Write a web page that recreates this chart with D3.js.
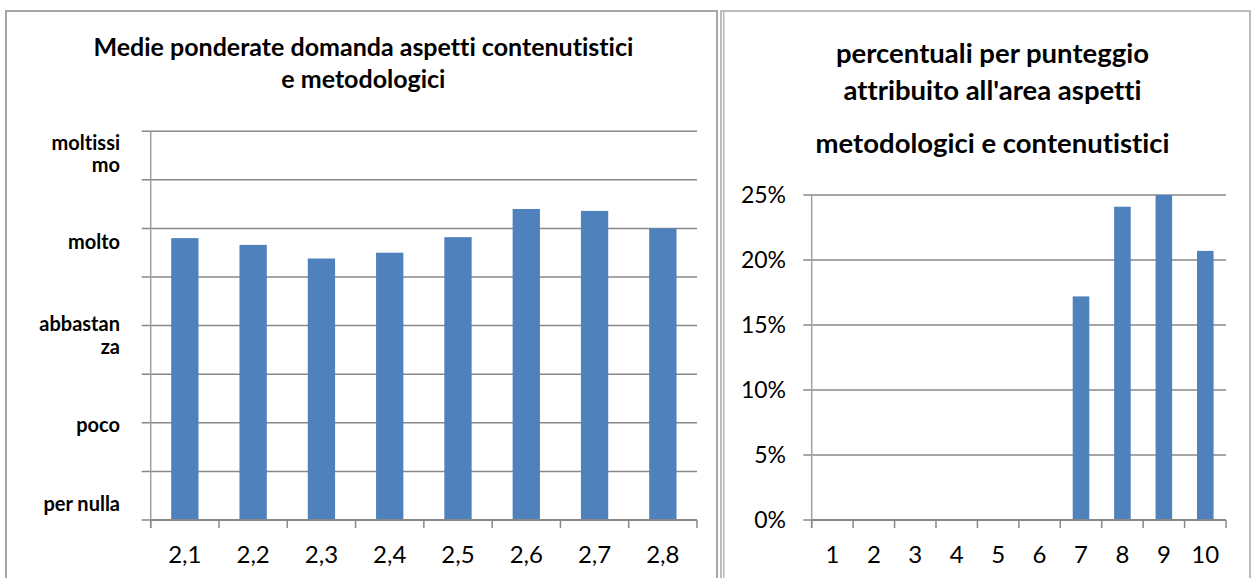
<!DOCTYPE html>
<html>
<head>
<meta charset="utf-8">
<script src="https://cdn.jsdelivr.net/npm/d3@7"></script>
<style>
  body { margin: 0; background: #fff; }
  svg { display: block; font-family: Lato, "Open Sans", sans-serif; font-variant-ligatures: none; }
</style>
</head>
<body>
<div id="chart"></div>
<script>
// left chart: weighted averages per question
const questions = ["2,1", "2,2", "2,3", "2,4", "2,5", "2,6", "2,7", "2,8"];
const averages = [2.90, 2.83, 2.69, 2.75, 2.91, 3.20, 3.18, 3.00];
const levelLabels = [["per nulla"], ["poco"], ["abbastan", "za"], ["molto"], ["moltissi", "mo"]];
const levelTicks = [0.09, 0.91, 1.94, 2.79, 3.81];
const leftTitle = ["Medie ponderate domanda aspetti contenutistici", "e metodologici"];

// right chart: share of answers per score
const scores = ["1", "2", "3", "4", "5", "6", "7", "8", "9", "10"];
const shares = [0, 0, 0, 0, 0, 0, 0.172, 0.241, 0.25, 0.207];
const percentTicks = [0, 0.05, 0.10, 0.15, 0.20, 0.25];
const rightTitle = ["percentuali per punteggio", "attribuito all'area aspetti", "metodologici e contenutistici"];

const barColor = "#4f81bd";
const gridColor = "#888888";
const axisColor = "#a0a0a0";
const frameColor = "#a6a6a6";

const svg = d3.select("#chart").append("svg")
    .attr("width", 1253)
    .attr("height", 578);

// frames
svg.append("rect")
    .attr("x", 6).attr("y", 11)
    .attr("width", 711).attr("height", 600)
    .attr("fill", "none")
    .attr("stroke", frameColor)
    .attr("stroke-width", 2);

svg.append("rect")
    .attr("x", 721).attr("y", 11)
    .attr("width", 529).attr("height", 600)
    .attr("fill", "none")
    .attr("stroke", frameColor)
    .attr("stroke-width", 1.5);

svg.append("line")
    .attr("x1", 723.8).attr("x2", 723.8)
    .attr("y1", 11).attr("y2", 578)
    .attr("stroke", frameColor)
    .attr("stroke-width", 1.2);

function drawBars(g, cats, vals, x, y, bottom) {
    g.selectAll("rect.bar")
        .data(vals)
        .enter()
        .append("rect")
        .attr("class", "bar")
        .attr("x", (d, i) => x(cats[i]))
        .attr("width", x.bandwidth())
        .attr("y", d => y(d))
        .attr("height", d => bottom - y(d))
        .attr("fill", barColor);
}

function drawCategoryAxis(g, cats, x, bottom, fontSize) {
    const step = x.step();
    const edge = (step - x.bandwidth()) / 2;
    const bounds = cats.map(c => x(c) - edge);
    bounds.push(x.range()[1]);

    g.append("line")
        .attr("x1", x.range()[0]).attr("x2", x.range()[1])
        .attr("y1", bottom).attr("y2", bottom)
        .attr("stroke", gridColor)
        .attr("stroke-width", 2);

    g.selectAll("line.xtick")
        .data(bounds)
        .enter()
        .append("line")
        .attr("class", "xtick")
        .attr("x1", d => d).attr("x2", d => d)
        .attr("y1", bottom).attr("y2", bottom + 8)
        .attr("stroke", gridColor)
        .attr("stroke-width", 1.5);

    g.selectAll("text.xlabel")
        .data(cats)
        .enter()
        .append("text")
        .attr("class", "xlabel")
        .attr("x", d => x(d) + x.bandwidth() / 2)
        .attr("y", bottom + 42.7)
        .attr("text-anchor", "middle")
        .attr("fill", "#000")
        .style("font-size", fontSize + "px")
        .text(d => d);
}

// ---------- left chart ----------
const left = svg.append("g");
const lx = d3.scaleBand()
    .domain(questions)
    .range([150.7, 697])
    .paddingInner(0.6)
    .paddingOuter(0.3);
const ly = d3.scaleLinear()
    .domain([0, 4])
    .range([520, 131.2]);
const lTicks = d3.range(0, 4.01, 0.5);

left.selectAll("line.grid")
    .data(lTicks.slice(1))
    .enter()
    .append("line")
    .attr("class", "grid")
    .attr("x1", 141.7).attr("x2", 697)
    .attr("y1", d => ly(d)).attr("y2", d => ly(d))
    .attr("stroke", gridColor)
    .attr("stroke-width", 1.5);

left.append("line")
    .attr("x1", 141.7).attr("x2", 150.7)
    .attr("y1", ly(0)).attr("y2", ly(0))
    .attr("stroke", gridColor)
    .attr("stroke-width", 1.5);

left.append("line")
    .attr("x1", 150.7).attr("x2", 150.7)
    .attr("y1", ly(4)).attr("y2", ly(0) + 8)
    .attr("stroke", axisColor)
    .attr("stroke-width", 1.5);

drawBars(left, questions, averages, lx, ly, ly(0));
drawCategoryAxis(left, questions, lx, ly(0), 24);

const lvl = left.selectAll("text.level")
    .data(levelLabels)
    .enter()
    .append("text")
    .attr("class", "level")
    .attr("x", 120)
    .attr("y", (d, i) => ly(levelTicks[i]))
    .attr("text-anchor", "end")
    .attr("fill", "#000")
    .style("font-size", "20px")
    .style("font-weight", "bold");
lvl.selectAll("tspan")
    .data(d => d)
    .enter()
    .append("tspan")
    .attr("x", 120)
    .attr("dy", (d, i) => i === 0 ? 0 : 22.4)
    .text(d => d);

left.selectAll("text.title")
    .data(leftTitle)
    .enter()
    .append("text")
    .attr("class", "title")
    .attr("x", 363.4)
    .attr("y", (d, i) => 55.7 + i * 32.4)
    .attr("text-anchor", "middle")
    .attr("fill", "#000")
    .style("font-size", "25px")
    .style("font-weight", "bold")
    .text(d => d);

// ---------- right chart ----------
const right = svg.append("g");
const rx = d3.scaleBand()
    .domain(scores)
    .range([811.7, 1226])
    .paddingInner(0.6)
    .paddingOuter(0.3);
const ry = d3.scaleLinear()
    .domain([0, 0.25])
    .range([520, 195]);

right.selectAll("line.grid")
    .data(percentTicks.slice(1))
    .enter()
    .append("line")
    .attr("class", "grid")
    .attr("x1", 803.3).attr("x2", 1226)
    .attr("y1", d => ry(d)).attr("y2", d => ry(d))
    .attr("stroke", gridColor)
    .attr("stroke-width", 1.5);

right.append("line")
    .attr("x1", 803.3).attr("x2", 811.7)
    .attr("y1", ry(0)).attr("y2", ry(0))
    .attr("stroke", gridColor)
    .attr("stroke-width", 1.5);

right.append("line")
    .attr("x1", 811.7).attr("x2", 811.7)
    .attr("y1", ry(0.25)).attr("y2", ry(0) + 8)
    .attr("stroke", axisColor)
    .attr("stroke-width", 1.5);

right.selectAll("text.ylabel")
    .data(percentTicks)
    .enter()
    .append("text")
    .attr("class", "ylabel")
    .attr("x", 786)
    .attr("y", d => ry(d) + 7.7)
    .attr("text-anchor", "end")
    .attr("fill", "#000")
    .style("font-size", "23px")
    .text(d3.format(".0%"));

drawBars(right, scores, shares, rx, ry, ry(0));
drawCategoryAxis(right, scores, rx, ry(0), 24);

const rTitleY = [63.3, 100, 153.3];
right.selectAll("text.title")
    .data(rightTitle)
    .enter()
    .append("text")
    .attr("class", "title")
    .attr("x", 992.5)
    .attr("y", (d, i) => rTitleY[i])
    .attr("text-anchor", "middle")
    .attr("fill", "#000")
    .style("font-size", "27.5px")
    .style("font-weight", "bold")
    .text(d => d);
</script>
</body>
</html>
